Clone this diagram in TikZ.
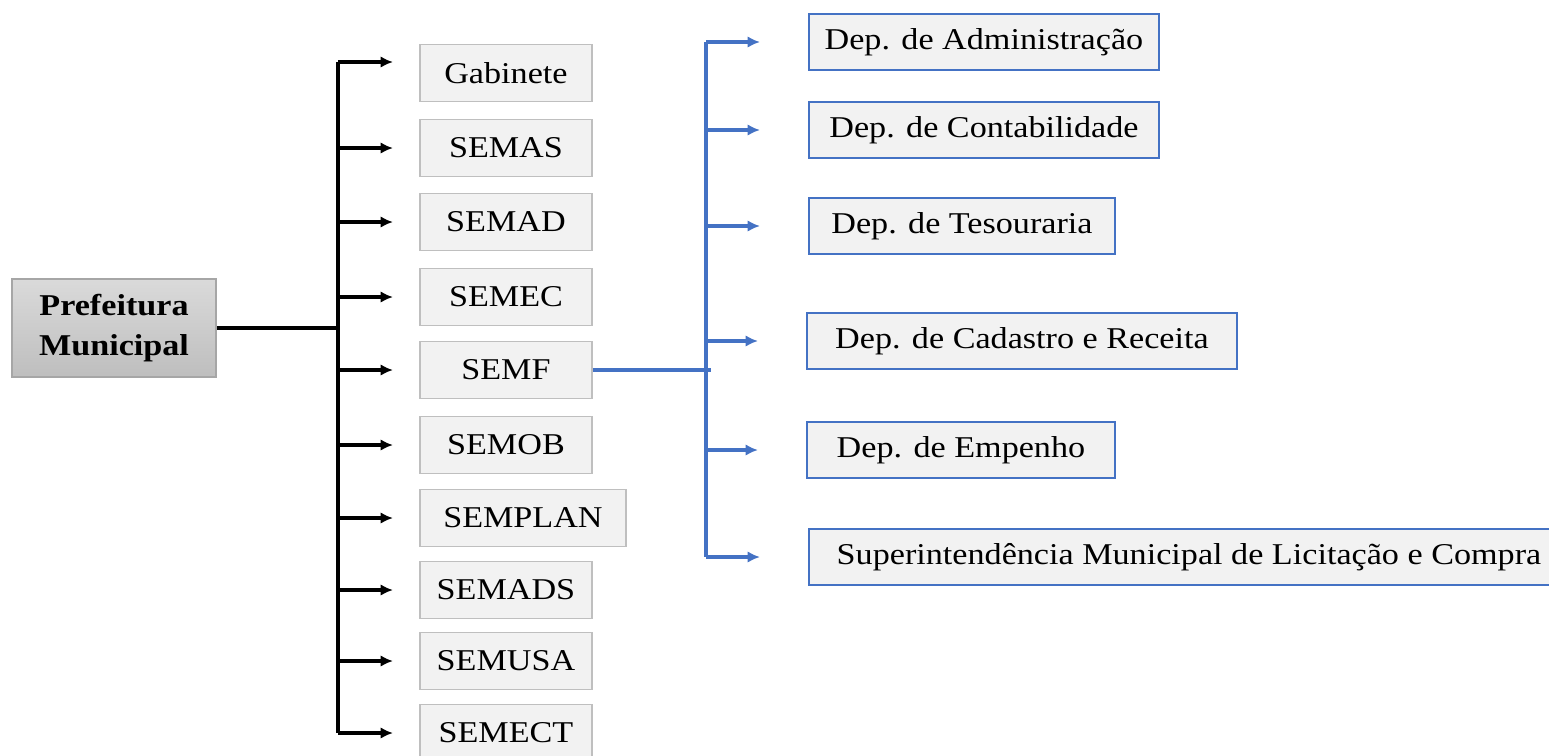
\documentclass[tikz,border=0pt]{standalone}
\usepackage{fontspec}
\setmainfont{Liberation Serif}[FakeStretch=1.13]
\usetikzlibrary{arrows.meta,positioning,calc}

\definecolor{boxgray}{HTML}{F2F2F2}
\definecolor{edgegray}{HTML}{BFBFBF}
\definecolor{prefedge}{HTML}{A6A6A6}
\definecolor{preftop}{HTML}{DADADA}
\definecolor{prefbot}{HTML}{BEBEBE}
\definecolor{depblue}{HTML}{4472C4}

\tikzset{
    secbox/.style={draw=edgegray, line width=1.1pt, fill=boxgray, minimum height=1.14cm,
        inner sep=0pt, anchor=west, font=\fontsize{17.2}{20}\selectfont},
    depbox/.style={draw=depblue, line width=1.1pt, fill=boxgray, minimum height=1.12cm,
        inner sep=0pt, anchor=west, font=\fontsize{17.2}{20}\selectfont},
    prefbox/.style={draw=prefedge, line width=1.1pt, top color=preftop, bottom color=prefbot,
        minimum width=4.08cm, minimum height=1.96cm, align=center,
        font=\fontsize{17.2}{23}\selectfont\bfseries},
    blkline/.style={line width=1.9pt, black},
    blkarrow/.style={blkline, -{Latex[length=7pt,width=6.5pt]}, shorten >=0.52cm},
    blueline/.style={line width=1.9pt, depblue},
    bluearrow/.style={blueline, -{Latex[length=7pt,width=6.5pt]}, shorten >=0.96cm}
}

\begin{document}
\begin{tikzpicture}[x=0.02cm, y=-0.02cm]
    \useasboundingbox (0,0) rectangle (1549,755);
    \clip (0,0) rectangle (1549,755);

    % Root
    \node[prefbox] (pref) at (114,328) {Prefeitura\\Municipal};

    % Secretarias
    \foreach \nm/\txt/\y/\w in {gab/Gabinete/73/172, semas/SEMAS/148/172, semad/SEMAD/222/172,
        semec/SEMEC/297/172, semf/SEMF/370/172, semob/SEMOB/445/172, semplan/SEMPLAN/518/206,
        semads/SEMADS/590/172, semusa/SEMUSA/661/172, semect/SEMECT/733/172} {
        \node[secbox, minimum width=\w*0.02cm] (\nm) at (419,\y) {\txt};
    }

    % Trunk and branches
    \coordinate (ttop) at (338,62);
    \draw[blkline] (ttop) -- (ttop |- semect);
    \draw[blkline] (pref.east) -- (pref.east -| ttop);
    \draw[blkarrow] (ttop) -- (ttop -| gab.west);
    \foreach \nm in {semas, semad, semec, semf, semob, semplan, semads, semusa, semect} {
        \draw[blkarrow] (\nm -| ttop) -- (\nm.west);
    }

    % Departamentos da SEMF
    \foreach \nm/\txt/\x/\y/\w in {dadm/Dep. de Administração/808/42/350,
        dcont/Dep. de Contabilidade/808/130/350, dtes/Dep. de Tesouraria/808/226/306,
        dcad/Dep. de Cadastro e Receita/806/341/430, demp/Dep. de Empenho/806/450/308,
        dsup/Superintendência Municipal de Licitação e Compra/808/557/760} {
        \node[depbox, minimum width=\w*0.02cm] (\nm) at (\x,\y) {\txt};
    }

    \coordinate (btop) at (706,42);
    \draw[blueline] (btop) -- (btop |- dsup);
    \draw[blueline] (semf.east) -- ($(semf.east -| btop)+(5,0)$);
    \foreach \nm in {dadm, dcont, dtes, dcad, demp, dsup} {
        \draw[bluearrow] (\nm -| btop) -- (\nm.west);
    }
\end{tikzpicture}
\end{document}
